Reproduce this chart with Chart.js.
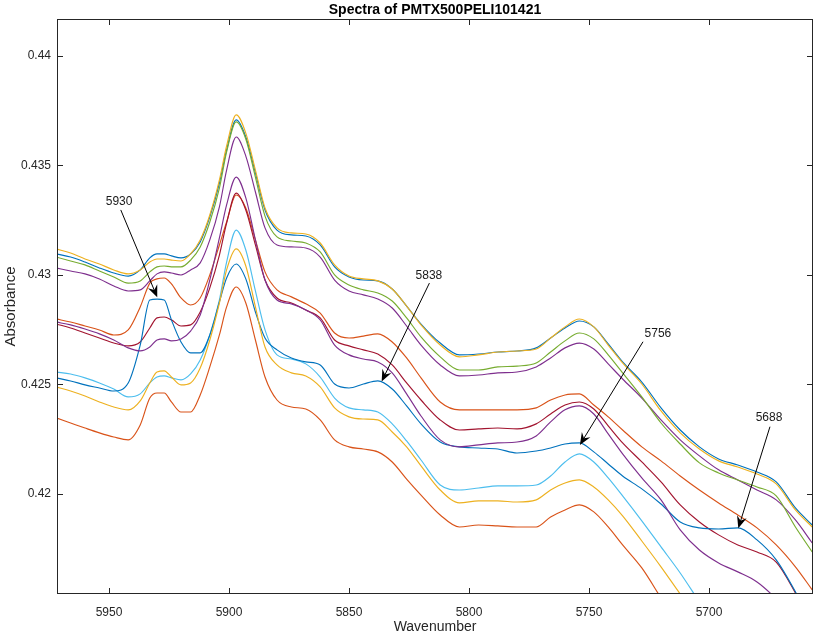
<!DOCTYPE html>
<html>
<head>
<meta charset="utf-8">
<title>Spectra of PMTX500PELI101421</title>
<script src="https://cdn.jsdelivr.net/npm/chart.js@4.4.1/dist/chart.umd.min.js"></script>
<style>
  html, body { margin: 0; padding: 0; background: #fff; }
  #spectra { display: block; }
</style>
</head>
<body>
<canvas id="spectra" width="816" height="636"></canvas>
<script>
/**
 * Data (absorbance, one array per spectrum, in plotting order)
 */
const wavenumber = [5972, 5966, 5960, 5954, 5948, 5942, 5937, 5933, 5930, 5927, 5924, 5920, 5916, 5912, 5908, 5904, 5901, 5897, 5893, 5889,
    5885, 5880, 5874, 5868, 5862, 5856, 5850, 5844, 5838, 5832, 5826, 5820, 5812, 5804, 5796, 5788, 5780, 5772, 5766, 5760,
    5754, 5748, 5742, 5736, 5728, 5720, 5712, 5704, 5696, 5688, 5680, 5672, 5664, 5657];

const spec01 = [0.43096, 0.43082, 0.43059, 0.43032, 0.43009, 0.42995, 0.43023, 0.43078, 0.43096, 0.43096,
    0.43087, 0.43078, 0.43096, 0.43151, 0.43265, 0.43420, 0.43571, 0.43708, 0.43630, 0.43466,
    0.43297, 0.43205, 0.43183, 0.43178, 0.43137, 0.43037, 0.42991, 0.42977, 0.42973, 0.42936,
    0.42858, 0.42776, 0.42689, 0.42635, 0.42639, 0.42648, 0.42653, 0.42667, 0.42712, 0.42758,
    0.42790, 0.42763, 0.42685, 0.42603, 0.42511, 0.42393, 0.42292, 0.42215, 0.42160, 0.42132,
    0.42100, 0.42055, 0.41936, 0.41858];
const spec02 = [0.42799, 0.42785, 0.42767, 0.42749, 0.42726, 0.42749, 0.42854, 0.42963, 0.42982, 0.42986,
    0.42959, 0.42895, 0.42863, 0.42895, 0.43000, 0.43137, 0.43242, 0.43365, 0.43306, 0.43160,
    0.43014, 0.42932, 0.42900, 0.42868, 0.42826, 0.42735, 0.42712, 0.42721, 0.42731, 0.42694,
    0.42621, 0.42530, 0.42420, 0.42384, 0.42384, 0.42384, 0.42384, 0.42393, 0.42429, 0.42452,
    0.42457, 0.42406, 0.42352, 0.42292, 0.42215, 0.42151, 0.42082, 0.42018, 0.41959, 0.41904,
    0.41845, 0.41767, 0.41667, 0.41562];
const spec03 = [0.43119, 0.43100, 0.43073, 0.43050, 0.43023, 0.43005, 0.43023, 0.43059, 0.43073, 0.43073,
    0.43068, 0.43064, 0.43096, 0.43160, 0.43274, 0.43434, 0.43589, 0.43731, 0.43648, 0.43479,
    0.43306, 0.43215, 0.43192, 0.43187, 0.43146, 0.43046, 0.42995, 0.42982, 0.42973, 0.42936,
    0.42858, 0.42772, 0.42680, 0.42626, 0.42635, 0.42648, 0.42653, 0.42662, 0.42712, 0.42763,
    0.42799, 0.42763, 0.42680, 0.42598, 0.42502, 0.42379, 0.42279, 0.42205, 0.42151, 0.42123,
    0.42091, 0.42046, 0.41927, 0.41849];
const spec04 = [0.43032, 0.43018, 0.43005, 0.42982, 0.42950, 0.42927, 0.42932, 0.42973, 0.43005, 0.43014,
    0.43009, 0.43000, 0.43023, 0.43055, 0.43160, 0.43311, 0.43479, 0.43630, 0.43543, 0.43379,
    0.43215, 0.43137, 0.43128, 0.43123, 0.43082, 0.42977, 0.42927, 0.42909, 0.42890, 0.42849,
    0.42767, 0.42680, 0.42589, 0.42539, 0.42543, 0.42553, 0.42557, 0.42580, 0.42621, 0.42667,
    0.42689, 0.42662, 0.42594, 0.42525, 0.42438, 0.42338, 0.42247, 0.42174, 0.42110, 0.42064,
    0.42018, 0.41973, 0.41881, 0.41776];
const spec05 = [0.43082, 0.43064, 0.43046, 0.43018, 0.42991, 0.42963, 0.42973, 0.43014, 0.43037, 0.43041,
    0.43037, 0.43037, 0.43068, 0.43128, 0.43242, 0.43397, 0.43562, 0.43699, 0.43621, 0.43447,
    0.43269, 0.43174, 0.43155, 0.43146, 0.43105, 0.43000, 0.42954, 0.42932, 0.42918, 0.42881,
    0.42804, 0.42717, 0.42626, 0.42566, 0.42566, 0.42580, 0.42584, 0.42598, 0.42648, 0.42699,
    0.42735, 0.42708, 0.42635, 0.42553, 0.42443, 0.42324, 0.42228, 0.42142, 0.42096, 0.42064,
    0.42032, 0.41991, 0.41849, 0.41735];
const spec06 = [0.42557, 0.42548, 0.42530, 0.42507, 0.42479, 0.42443, 0.42457, 0.42507, 0.42534, 0.42539,
    0.42530, 0.42521, 0.42548, 0.42612, 0.42726, 0.42886, 0.43059, 0.43205, 0.43114, 0.42927,
    0.42749, 0.42635, 0.42616, 0.42594, 0.42534, 0.42438, 0.42393, 0.42384, 0.42374, 0.42320,
    0.42242, 0.42155, 0.42041, 0.42018, 0.42027, 0.42037, 0.42037, 0.42041, 0.42082, 0.42146,
    0.42183, 0.42146, 0.42073, 0.41991, 0.41877, 0.41758, 0.41639, 0.41507, 0.41379, null,
    null, null, null, null];
const spec07 = [0.42776, 0.42758, 0.42735, 0.42712, 0.42689, 0.42676, 0.42694, 0.42758, 0.42804, 0.42808,
    0.42795, 0.42767, 0.42772, 0.42831, 0.42941, 0.43091, 0.43237, 0.43374, 0.43297, 0.43137,
    0.42977, 0.42895, 0.42872, 0.42840, 0.42804, 0.42703, 0.42676, 0.42658, 0.42639, 0.42589,
    0.42507, 0.42429, 0.42338, 0.42292, 0.42297, 0.42301, 0.42297, 0.42320, 0.42365, 0.42406,
    0.42420, 0.42388, 0.42311, 0.42233, 0.42146, 0.42055, 0.41950, 0.41872, 0.41813, 0.41767,
    0.41735, 0.41689, 0.41548, 0.41402];
const spec08 = [0.42530, 0.42516, 0.42498, 0.42484, 0.42470, 0.42507, 0.42680, 0.42886, 0.42890, 0.42886,
    0.42795, 0.42694, 0.42644, 0.42644, 0.42726, 0.42877, 0.42986, 0.43050, 0.42982, 0.42831,
    0.42712, 0.42658, 0.42621, 0.42603, 0.42589, 0.42502, 0.42484, 0.42502, 0.42516, 0.42479,
    0.42402, 0.42320, 0.42237, 0.42215, 0.42210, 0.42205, 0.42187, 0.42196, 0.42210, 0.42228,
    0.42233, 0.42192, 0.42137, 0.42082, 0.42023, 0.41954, 0.41872, 0.41845, 0.41840, 0.41845,
    0.41790, 0.41699, 0.41553, 0.41402];
const spec09 = [0.42347, 0.42324, 0.42301, 0.42279, 0.42260, 0.42247, 0.42315, 0.42438, 0.42461, 0.42461,
    0.42420, 0.42374, 0.42374, 0.42452, 0.42580, 0.42726, 0.42854, 0.42945, 0.42872, 0.42703,
    0.42534, 0.42429, 0.42397, 0.42388, 0.42338, 0.42247, 0.42215, 0.42205, 0.42192, 0.42146,
    0.42068, 0.41995, 0.41904, 0.41849, 0.41858, 0.41854, 0.41849, 0.41849, 0.41895, 0.41927,
    0.41950, 0.41918, 0.41849, 0.41767, 0.41662, 0.41525, 0.41388, null, null, null,
    null, null, null, null];
const spec10 = [0.42489, 0.42470, 0.42447, 0.42420, 0.42397, 0.42384, 0.42425, 0.42507, 0.42557, 0.42562,
    0.42534, 0.42498, 0.42507, 0.42575, 0.42703, 0.42872, 0.43023, 0.43119, 0.43041, 0.42854,
    0.42671, 0.42589, 0.42553, 0.42539, 0.42489, 0.42393, 0.42352, 0.42342, 0.42338, 0.42283,
    0.42215, 0.42128, 0.42018, 0.41959, 0.41968, 0.41968, 0.41963, 0.41973, 0.42018, 0.42050,
    0.42064, 0.42032, 0.41973, 0.41900, 0.41785, 0.41667, 0.41543, 0.41425, null, null,
    null, null, null, null];
const spec11 = [0.42785, 0.42772, 0.42753, 0.42731, 0.42703, 0.42667, 0.42653, 0.42671, 0.42703, 0.42708,
    0.42699, 0.42708, 0.42744, 0.42817, 0.42977, 0.43169, 0.43320, 0.43447, 0.43352, 0.43160,
    0.42977, 0.42886, 0.42868, 0.42840, 0.42795, 0.42680, 0.42635, 0.42616, 0.42603, 0.42553,
    0.42457, 0.42356, 0.42247, 0.42215, 0.42224, 0.42233, 0.42237, 0.42265, 0.42329, 0.42384,
    0.42402, 0.42365, 0.42274, 0.42183, 0.42073, 0.41973, 0.41836, 0.41744, 0.41685, 0.41644,
    0.41598, 0.41521, 0.41425, 0.41333];

const xTicks = [5950, 5900, 5850, 5800, 5750, 5700];
const yTicks = [0.42, 0.425, 0.43, 0.435, 0.44];

// peak call-outs: label, text position, arrow tail, arrow tip (wavenumber, absorbance)
const peakLabels = ["5930", "5838", "5756", "5688"];
const peakTextAt = [[5945.8, 0.43333], [5816.7, 0.42995], [5721.3, 0.42731], [5675.0, 0.42347]];
const peakArrowFrom = [[5945.1, 0.43297], [5816.5, 0.42963], [5727.5, 0.42695], [5674.6, 0.42307]];
const peakArrowTo = [[5929.9, 0.42898], [5836.4, 0.42513], [5753.8, 0.42224], [5687.8, 0.41843]];

const chartTitle = "Spectra of PMTX500PELI101421";


/**
 * Style
 */
const fontFamily = "'Liberation Sans', Arial, Helvetica, sans-serif";
const axisColor = "#262626";
const lineColors = ["#0072BD", "#D95319", "#EDB120", "#7E2F8E", "#77AC30", "#4DBEEE", "#A2142F",
    "#0072BD", "#D95319", "#EDB120", "#7E2F8E"];
const spectra = [spec01, spec02, spec03, spec04, spec05, spec06, spec07, spec08, spec09, spec10, spec11];


/**
 * Plugins: matlab style box with inward ticks + title, and the peak arrows
 */
const boxPlugin = {
    id: "matlabBox",
    afterDatasetsDraw(chart) {
        const {ctx, chartArea: a, scales: {x, y}} = chart;
        ctx.save();
        ctx.strokeStyle = axisColor;
        ctx.lineWidth = 1;
        ctx.beginPath();
        for (const t of xTicks) {
            const px = Math.round(x.getPixelForValue(t)) + 0.5;
            ctx.moveTo(px, a.bottom); ctx.lineTo(px, a.bottom - 6);
            ctx.moveTo(px, a.top); ctx.lineTo(px, a.top + 6);
        }
        for (const t of yTicks) {
            const py = Math.round(y.getPixelForValue(t)) + 0.5;
            ctx.moveTo(a.left, py); ctx.lineTo(a.left + 6, py);
            ctx.moveTo(a.right, py); ctx.lineTo(a.right - 6, py);
        }
        ctx.stroke();
        ctx.strokeRect(Math.round(a.left) + 0.5, Math.round(a.top) + 0.5,
            Math.round(a.right - a.left) - 1, Math.round(a.bottom - a.top) - 1);

        ctx.fillStyle = "#000";
        ctx.font = "bold 14px " + fontFamily;
        ctx.textAlign = "center";
        ctx.textBaseline = "middle";
        ctx.fillText(chartTitle, (a.left + a.right) / 2, 10);
        ctx.restore();
    }
};

const arrowPlugin = {
    id: "peakArrows",
    afterDatasetsDraw(chart) {
        const {ctx, scales: {x, y}} = chart;
        ctx.save();
        ctx.strokeStyle = "#000";
        ctx.lineWidth = 1;
        peakLabels.forEach((label, i) => {
            const x0 = x.getPixelForValue(peakArrowFrom[i][0]);
            const y0 = y.getPixelForValue(peakArrowFrom[i][1]);
            const x1 = x.getPixelForValue(peakArrowTo[i][0]);
            const y1 = y.getPixelForValue(peakArrowTo[i][1]);
            const len = Math.hypot(x1 - x0, y1 - y0);
            const ux = (x1 - x0) / len, uy = (y1 - y0) / len;
            const headLength = 12, headWidth = 5;
            ctx.beginPath();
            ctx.moveTo(x0, y0);
            ctx.lineTo(x1 - ux * headLength * 0.6, y1 - uy * headLength * 0.6);
            ctx.stroke();
            ctx.fillStyle = "#000";
            ctx.beginPath();
            ctx.moveTo(x1, y1);
            ctx.lineTo(x1 - ux * headLength - uy * headWidth, y1 - uy * headLength + ux * headWidth);
            ctx.lineTo(x1 - ux * headLength * 0.65, y1 - uy * headLength * 0.65);
            ctx.lineTo(x1 - ux * headLength + uy * headWidth, y1 - uy * headLength - ux * headWidth);
            ctx.closePath();
            ctx.fill();

            ctx.font = "12px " + fontFamily;
            ctx.fillStyle = "#1a1a1a";
            ctx.textAlign = "center";
            ctx.textBaseline = "middle";
            ctx.fillText(label, x.getPixelForValue(peakTextAt[i][0]), y.getPixelForValue(peakTextAt[i][1]));
        });
        ctx.restore();
    }
};


/**
 * Chart
 */
const spectraChart = initChart();

function initChart() {
    const ctx = document.getElementById("spectra");

    return new Chart(ctx, {
        type: "line",
        data: {
            datasets: spectra.map((values, index) => {
                return {
                    label: "spectrum " + (index + 1),
                    data: mapToPoints(values),
                    borderColor: lineColors[index],
                    borderWidth: 1.15,
                    pointRadius: 0,
                    fill: false,
                    cubicInterpolationMode: "monotone",
                    spanGaps: false,
                    order: spectra.length - index
                };
            })
        },
        options: {
            responsive: false,
            devicePixelRatio: 1,
            animation: false,
            events: [],
            layout: {
                padding: {top: 19, right: 3, left: 0, bottom: 0}
            },
            scales: {
                x: {
                    type: "linear",
                    reverse: true,
                    min: 5656.67,
                    max: 5971.67,
                    grid: {display: false, drawTicks: false},
                    border: {display: false},
                    afterBuildTicks: (scale) => {
                        scale.ticks = xTicks.map(v => ({value: v}));
                    },
                    afterFit: (scale) => {
                        scale.height = 42;
                    },
                    ticks: {
                        padding: 11,
                        maxRotation: 0,
                        color: axisColor,
                        font: {family: fontFamily, size: 12},
                        callback: (value) => String(value)
                    },
                    title: {
                        display: true,
                        text: "Wavenumber",
                        color: axisColor,
                        font: {family: fontFamily, size: 14},
                        padding: {top: 0, bottom: 0}
                    }
                },
                y: {
                    type: "linear",
                    min: 0.41543,
                    max: 0.44169,
                    grid: {display: false, drawTicks: false},
                    border: {display: false},
                    afterBuildTicks: (scale) => {
                        scale.ticks = yTicks.map(v => ({value: v}));
                    },
                    afterFit: (scale) => {
                        scale.width = 57;
                    },
                    ticks: {
                        padding: 6,
                        color: axisColor,
                        font: {family: fontFamily, size: 12},
                        callback: (value) => String(value)
                    },
                    title: {
                        display: true,
                        text: "Absorbance",
                        color: axisColor,
                        font: {family: fontFamily, size: 15},
                        padding: {top: 2, bottom: 0}
                    }
                }
            },
            plugins: {
                legend: {display: false},
                tooltip: {enabled: false}
            }
        },
        plugins: [boxPlugin, arrowPlugin]
    });
}

function mapToPoints(values) {
    return values.map((value, index) => {
        return {
            x: wavenumber[index],
            y: value
        };
    });
}
</script>
</body>
</html>
